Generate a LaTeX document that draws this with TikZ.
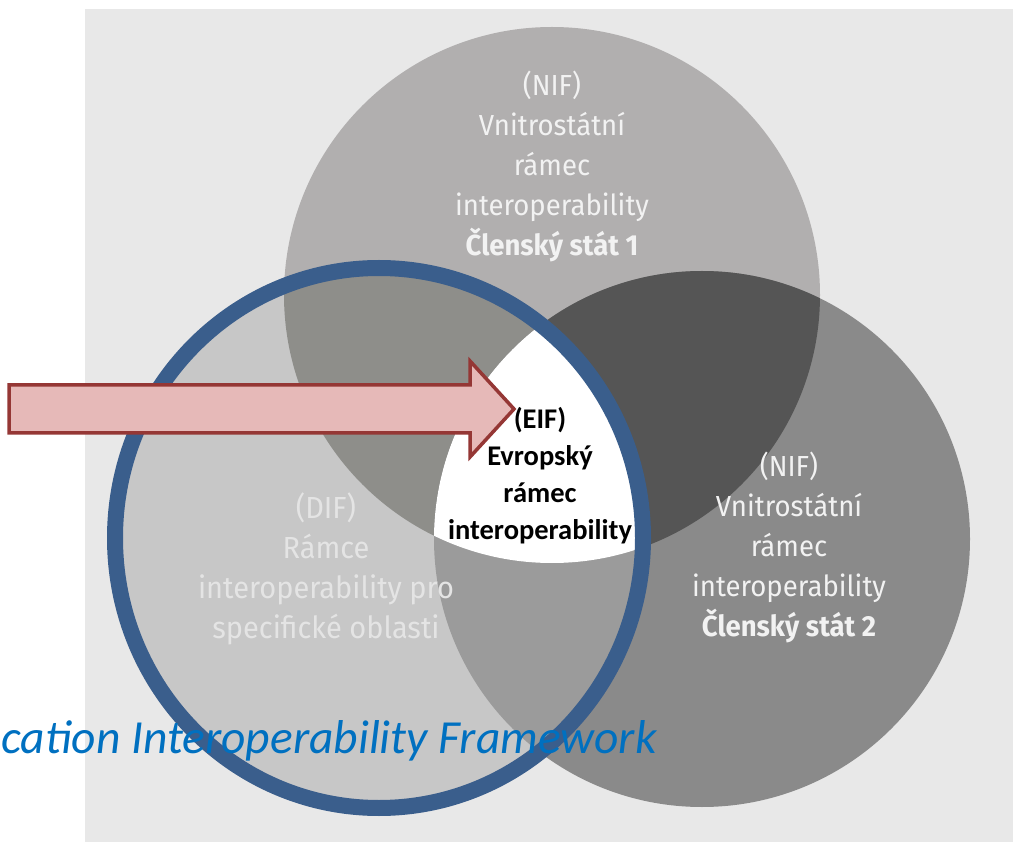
\documentclass[tikz,border=0pt]{standalone}
\usepackage{fontspec}
\setmainfont{Fira Sans}
\newfontfamily\circfont{Fira Sans}[FakeStretch=0.95]
\newfontfamily\calibfont{Carlito}
\definecolor{bgc}{HTML}{E8E8E8}
\definecolor{topc}{HTML}{B1AFAF}
\definecolor{leftc}{HTML}{C7C7C7}
\definecolor{rightc}{HTML}{8A8A8A}
\definecolor{tlc}{HTML}{8E8E8A}
\definecolor{trc}{HTML}{555555}
\definecolor{lrc}{HTML}{9B9B9B}
\definecolor{ringc}{HTML}{3A5E8C}
\definecolor{arrowfill}{HTML}{E6B9B8}
\definecolor{arrowline}{HTML}{953735}
\definecolor{bluetext}{HTML}{0070C0}
\definecolor{lighttext}{HTML}{F2F2F2}
\definecolor{dimtext}{HTML}{E4E4E4}
\tikzset{
  circlabel/.style={align=center, text=lighttext, font=\circfont\fontsize{29}{40}\selectfont, inner sep=0pt},
  eiflabel/.style={align=center, text=black, font=\calibfont\bfseries\fontsize{28.5}{37}\selectfont, inner sep=0pt},
  ringline/.style={draw=ringc, line width=16pt},
  blockarrow/.style={draw=arrowline, fill=arrowfill, line width=3.5pt, line join=miter},
  captiontext/.style={text=bluetext, font=\calibfont\itshape\fontsize{47.5}{50}\selectfont, inner sep=0pt}
}
\begin{document}
\begin{tikzpicture}[x=1pt,y=-1pt]
\useasboundingbox (0,0) rectangle (1013,842);
\fill[bgc] (85,9) rectangle (1013,842);
\coordinate (T) at (552,295);
\coordinate (L) at (379,538);
\coordinate (R) at (702,539);
% base circles
\fill[topc] (T) circle (268pt);
\fill[rightc] (R) circle (268pt);
\fill[leftc] (L) ellipse [x radius=264pt, y radius=270pt];
% pairwise intersections
\begin{scope}
  \clip (T) circle (268pt);
  \fill[tlc] (L) ellipse [x radius=264pt, y radius=270pt];
  \fill[trc] (R) circle (268pt);
\end{scope}
\begin{scope}
  \clip (R) circle (268pt);
  \fill[lrc] (L) ellipse [x radius=264pt, y radius=270pt];
\end{scope}
% triple intersection
\begin{scope}
  \clip (T) circle (268pt);
  \clip (R) circle (268pt);
  \fill[white] (L) ellipse [x radius=264pt, y radius=270pt];
\end{scope}
% labels
\node[circlabel] (nif1) at (552,166) {(NIF)\\Vnitrostátní\\rámec\\interoperability\\\textbf{Členský stát 1}};
\node[circlabel] (nif2) at (789,547) {(NIF)\\Vnitrostátní\\rámec\\interoperability\\\textbf{Členský stát 2}};
\node[circlabel, text=dimtext, font=\circfont\fontsize{30.5}{40}\selectfont] (dif) at (326,569) {(DIF)\\Rámce\\interoperability pro\\specifické oblasti};
\node[eiflabel] (eif) at (540,476) {(EIF)\\Evropský\\rámec\\interoperability};
% ring
\draw[ringline] (L) ellipse [x radius=264pt, y radius=270pt];
% block arrow
\draw[blockarrow] (9,385) -- (470,385) -- (470,361) -- (514,409) -- (470,457) -- (470,433) -- (9,433) -- cycle;
% caption
\node[captiontext, anchor=base east] (cap) at (657,753) {cation Interoperability Framework};
\end{tikzpicture}
\end{document}
